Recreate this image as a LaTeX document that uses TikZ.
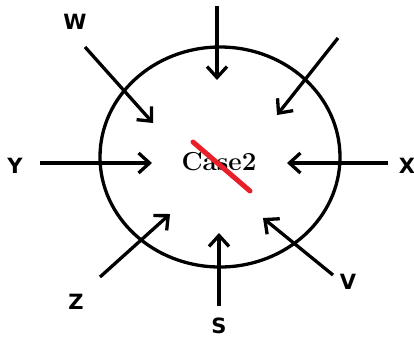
\documentclass[tikz,border=0pt]{standalone}
\usepackage{fontspec}
\newfontfamily\labelfont{DejaVu Sans}
\usetikzlibrary{arrows.meta}

\tikzset{
  inarrow/.style={draw=black,line width=3.3pt,-{Straight Barb[length=11pt,width=20pt,line width=3.3pt]}},
  pointlabel/.style={font=\labelfont\bfseries\fontsize{21}{21}\selectfont,inner sep=0pt},
  strike/.style={draw={rgb,255:red,232;green,30;blue,40},line width=5pt,line cap=round}
}

\begin{document}
\begin{tikzpicture}[x=1pt,y=-1pt]
\useasboundingbox (0,0) rectangle (414,338);
\draw[line width=3.3pt] (220,157) ellipse (120 and 110);
\node[font=\bfseries\fontsize{26}{26}\selectfont,anchor=base,inner sep=0pt] (case) at (219,170) {Case2};
\coordinate (strikeA) at (193,142);
\coordinate (strikeB) at (250,191);
\draw[strike] (strikeA) -- (strikeB);
\coordinate (topA) at (217,6);
\coordinate (topB) at (217,80);
\draw[inarrow] (topA) -- (topB);
\coordinate (neA) at (338,38);
\coordinate (neB) at (277,115);
\draw[inarrow] (neA) -- (neB);
\coordinate (wA) at (85,47);
\coordinate (wB) at (153,123);
\draw[inarrow] (wA) -- (wB);
\coordinate (yA) at (40,163);
\coordinate (yB) at (152,163);
\draw[inarrow] (yA) -- (yB);
\coordinate (xA) at (388,163);
\coordinate (xB) at (287,163);
\draw[inarrow] (xA) -- (xB);
\coordinate (zA) at (100,277);
\coordinate (zB) at (170,214);
\draw[inarrow] (zA) -- (zB);
\coordinate (sA) at (219,306);
\coordinate (sB) at (219,233);
\draw[inarrow] (sA) -- (sB);
\coordinate (vA) at (333,275);
\coordinate (vB) at (263,218);
\draw[inarrow] (vA) -- (vB);
\node[pointlabel] (w) at (75,22) {W};
\node[pointlabel] (y) at (15,166) {Y};
\node[pointlabel] (x) at (407,166) {X};
\node[pointlabel] (z) at (76,302) {Z};
\node[pointlabel] (s) at (219,326) {S};
\node[pointlabel] (v) at (348,282) {V};
\end{tikzpicture}
\end{document}
